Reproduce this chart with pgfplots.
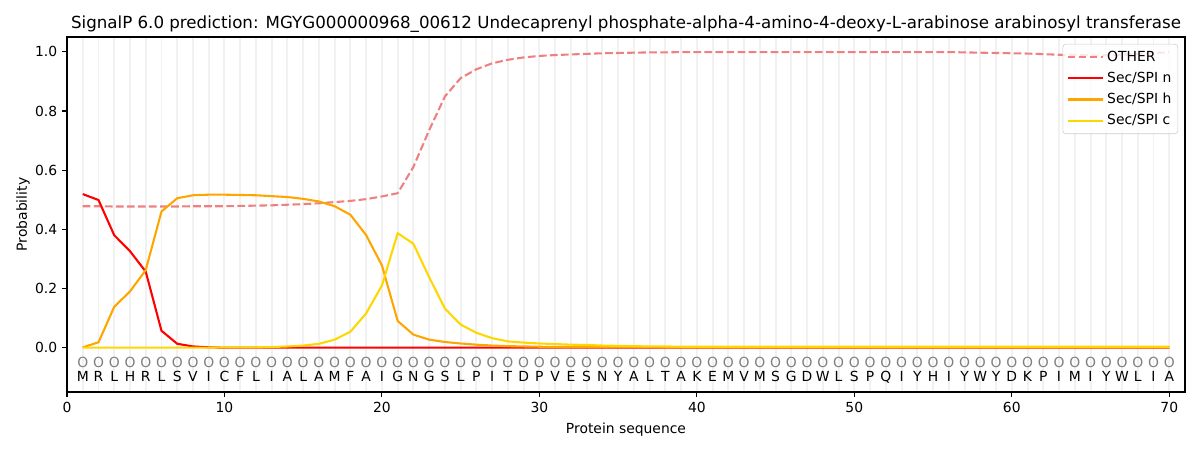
\documentclass[border=0pt]{standalone}
\usepackage{pgfplots}
\pgfplotsset{compat=1.18}
\usepackage{pgfplotstable}
\usepackage{fontspec}
\setmainfont{DejaVu Sans}
\definecolor{cother}{HTML}{F08080}
\definecolor{cn}{HTML}{FF0000}
\definecolor{ch}{HTML}{FFA500}
\definecolor{cc}{HTML}{FFD700}
\definecolor{gridc}{HTML}{F1F1F1}

\pgfplotstableread{
x other n h c
1 0.478 0.519 0.001 0.000
2 0.478 0.499 0.018 0.000
3 0.477 0.380 0.138 0.000
4 0.477 0.326 0.190 0.000
5 0.477 0.257 0.262 0.000
6 0.477 0.057 0.460 0.000
7 0.477 0.013 0.505 0.000
8 0.478 0.004 0.515 0.000
9 0.478 0.001 0.517 0.000
10 0.478 0.000 0.517 0.001
11 0.479 0.000 0.516 0.001
12 0.480 0.000 0.515 0.001
13 0.481 0.000 0.512 0.002
14 0.483 0.000 0.509 0.004
15 0.485 0.000 0.503 0.007
16 0.488 0.000 0.494 0.013
17 0.492 0.000 0.478 0.027
18 0.496 0.000 0.449 0.054
19 0.502 0.000 0.380 0.116
20 0.511 0.000 0.278 0.210
21 0.522 0.000 0.090 0.387
22 0.611 0.000 0.044 0.351
23 0.735 0.000 0.027 0.238
24 0.849 0.000 0.019 0.132
25 0.911 0.000 0.014 0.078
26 0.941 0.000 0.010 0.050
27 0.961 0.000 0.007 0.032
28 0.973 0.000 0.005 0.021
29 0.981 0.000 0.004 0.017
30 0.986 0.000 0.003 0.014
31 0.989 0.000 0.002 0.012
32 0.991 0.000 0.002 0.010
33 0.993 0.000 0.002 0.009
34 0.995 0.000 0.002 0.007
35 0.996 0.000 0.002 0.006
36 0.997 0.000 0.002 0.005
37 0.998 0.000 0.002 0.004
38 0.998 0.000 0.001 0.004
39 0.999 0.000 0.001 0.003
40 0.999 0.000 0.001 0.003
41 0.999 0.000 0.001 0.003
42 0.999 0.000 0.001 0.003
43 0.999 0.000 0.001 0.003
44 0.999 0.000 0.001 0.003
45 0.999 0.000 0.001 0.003
46 0.999 0.000 0.001 0.003
47 0.999 0.000 0.001 0.003
48 0.999 0.000 0.001 0.003
49 0.999 0.000 0.001 0.003
50 0.999 0.000 0.001 0.003
51 0.999 0.000 0.001 0.003
52 0.999 0.000 0.001 0.003
53 0.999 0.000 0.001 0.003
54 0.999 0.000 0.001 0.003
55 0.999 0.000 0.001 0.003
56 0.999 0.000 0.001 0.003
57 0.998 0.000 0.001 0.003
58 0.997 0.000 0.001 0.003
59 0.996 0.000 0.001 0.003
60 0.995 0.000 0.001 0.003
61 0.994 0.000 0.001 0.003
62 0.992 0.000 0.001 0.003
63 0.990 0.000 0.001 0.003
64 0.989 0.000 0.001 0.003
65 0.988 0.000 0.001 0.003
66 0.988 0.000 0.001 0.003
67 0.990 0.000 0.001 0.003
68 0.993 0.000 0.001 0.003
69 0.996 0.000 0.001 0.003
70 0.998 0.000 0.001 0.003
}\datatable

\pgfplotstableread{
x y l
1 -0.0485 M
2 -0.0485 R
3 -0.0485 L
4 -0.0485 H
5 -0.0485 R
6 -0.0485 L
7 -0.0485 S
8 -0.0485 V
9 -0.0485 I
10 -0.0485 C
11 -0.0485 F
12 -0.0485 L
13 -0.0485 I
14 -0.0485 A
15 -0.0485 L
16 -0.0485 A
17 -0.0485 M
18 -0.0485 F
19 -0.0485 A
20 -0.0485 I
21 -0.0485 G
22 -0.0485 N
23 -0.0485 G
24 -0.0485 S
25 -0.0485 L
26 -0.0485 P
27 -0.0485 I
28 -0.0485 T
29 -0.0485 D
30 -0.0485 P
31 -0.0485 V
32 -0.0485 E
33 -0.0485 S
34 -0.0485 N
35 -0.0485 Y
36 -0.0485 A
37 -0.0485 L
38 -0.0485 T
39 -0.0485 A
40 -0.0485 K
41 -0.0485 E
42 -0.0485 M
43 -0.0485 V
44 -0.0485 M
45 -0.0485 S
46 -0.0485 G
47 -0.0485 D
48 -0.0485 W
49 -0.0485 L
50 -0.0485 S
51 -0.0485 P
52 -0.0485 Q
53 -0.0485 I
54 -0.0485 Y
55 -0.0485 H
56 -0.0485 I
57 -0.0485 Y
58 -0.0485 W
59 -0.0485 Y
60 -0.0485 D
61 -0.0485 K
62 -0.0485 P
63 -0.0485 I
64 -0.0485 M
65 -0.0485 I
66 -0.0485 Y
67 -0.0485 W
68 -0.0485 L
69 -0.0485 I
70 -0.0485 A
}\seqtable

\begin{document}
\begin{tikzpicture}
\path[use as bounding box] (-48.24pt,-41.76pt) rectangle (815.76pt,282.24pt);
\begin{axis}[
  at={(0,0)}, anchor=south west,
  scale only axis,
  width=804.96pt, height=255.6pt,
  xmin=0, xmax=71, ymin=-0.15, ymax=1.05,
  xtick={0,10,...,70},
  ytick={0,0.2,...,1.0},
  minor xtick={1,...,70},
  xminorgrids=true,
  minor grid style={draw=gridc, line width=1.4pt},
  minor tick length=0pt,
  major tick length=3.5pt,
  tick align=outside,
  xtick pos=bottom, ytick pos=left,
  tick style={black, line width=0.8pt},
  axis line style={line width=0.8pt},
  yticklabel style={/pgf/number format/.cd, fixed, fixed zerofill, precision=1},
  /pgf/number format/assume math mode=true,
  ticklabel style={font=\fontsize{10}{12}\selectfont},
  xlabel={Protein sequence},
  ylabel={Probability},
  label style={font=\fontsize{10}{12}\selectfont},
  xlabel style={yshift=-0.6pt},
  ylabel style={yshift=-3pt},
  title={SignalP 6.0 prediction: MGYG000000968\_00612 Undecaprenyl phosphate-alpha-4-amino-4-deoxy-L-arabinose arabinosyl transferase},
  title style={font=\fontsize{12}{14}\selectfont, yshift=-6pt},
  legend style={at={(1,1)}, anchor=north east, xshift=-5pt, yshift=-5pt,
    draw=black!20, rounded corners=2pt, fill=white, fill opacity=0.8, text opacity=1,
    font=\fontsize{10}{12}\selectfont, row sep=2.2pt, inner xsep=2.6pt, inner ysep=3pt},
  legend cell align=left,
  legend image code/.code={\draw[#1] (0pt,0pt) -- (20pt,0pt); \path (0pt,0pt) -- (25.8pt,0pt);},
]
\addplot[cother, line width=1.5pt, dash pattern=on 5.55pt off 2.4pt] table[x=x, y=other] {\datatable};
\addlegendentry{OTHER}
\addplot[cn, line width=1.5pt] table[x=x, y=n] {\datatable};
\addlegendentry{Sec/SPI n}
\addplot[ch, line width=1.5pt] table[x=x, y=h] {\datatable};
\addlegendentry{Sec/SPI h}
\addplot[cc, line width=1.5pt] table[x=x, y=c] {\datatable};
\addlegendentry{Sec/SPI c}
\addplot[draw=none, mark=none, forget plot, nodes near coords={O}, 
  every node near coord/.style={anchor=center, inner sep=0pt, text=black!50, font=\fontsize{10}{12}\selectfont}]
  table[x=x, y=y] {\seqtable};
\addplot[draw=none, mark=none, forget plot, nodes near coords, point meta=explicit symbolic,
  every node near coord/.style={anchor=base, inner sep=0pt, text=black, font=\fontsize{10}{12}\selectfont}]
  table[x=x, y expr=\thisrow{y}-0.066, meta=l] {\seqtable};
\end{axis}
\end{tikzpicture}
\end{document}
